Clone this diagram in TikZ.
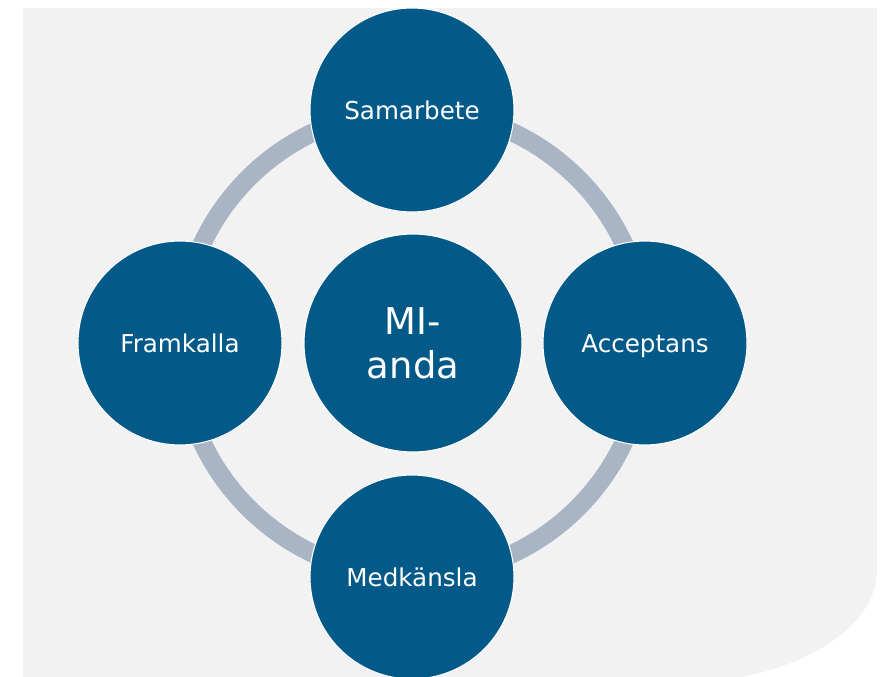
\documentclass[tikz,border=0pt]{standalone}
\usepackage{fontspec}
\setmainfont{DejaVu Sans}
\definecolor{bgray}{HTML}{F2F2F2}
\definecolor{cblue}{HTML}{035A88}
\definecolor{rgray}{HTML}{A9B5C5}
\tikzset{
  disc/.style={circle, fill=cblue, draw=white, line width=0.6pt, text=white,
    minimum size=4.08cm, inner sep=0pt, text height=12pt, text depth=1pt,
    font=\fontsize{14}{17}\selectfont},
  ring/.style={draw=rgray, line width=0.37cm},
}
\begin{document}
\begin{tikzpicture}[x=0.02cm, y=-0.02cm]
\useasboundingbox (0,0) rectangle (892,676);
\fill[bgray] (23,8) -- (877,8) -- (877,570)
  arc[start angle=0, end angle=90, x radius=200, y radius=113] -- (23,683) -- cycle;
\node[disc, minimum size=4.36cm, text height=, text depth=, font=\fontsize{21}{25}\selectfont, align=center] (mi) at (413,343) {MI-\\anda};
\draw[ring] (mi.center) circle[radius=233];
\node[disc] (samarbete) at (412,110) {Samarbete};
\node[disc] (framkalla) at (180,343) {Framkalla};
\node[disc] (acceptans) at (645,343) {Acceptans};
\node[disc] (medkansla) at (412,577) {Medkänsla};
\end{tikzpicture}
\end{document}
